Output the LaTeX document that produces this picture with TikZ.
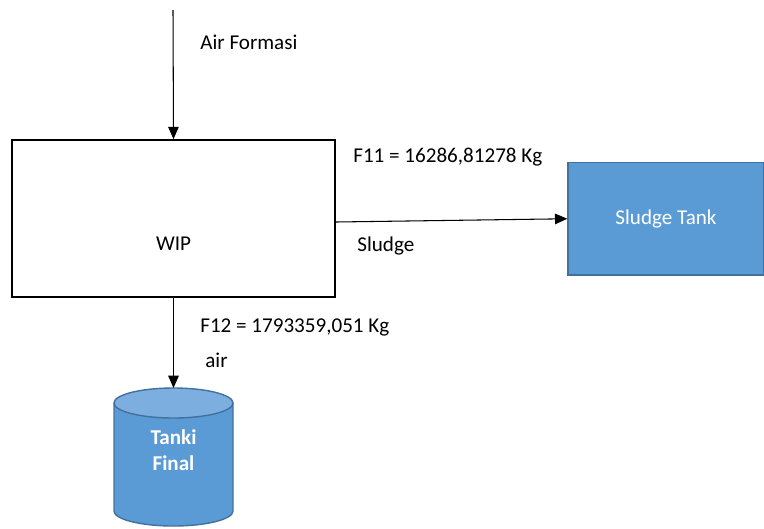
\documentclass[tikz,border=0pt]{standalone}
\usepackage{fontspec}
\setmainfont{Carlito}
\usetikzlibrary{arrows.meta}
\definecolor{tankblue}{HTML}{5B9BD5}
\definecolor{tankedge}{HTML}{41719C}
\definecolor{tanktop}{HTML}{7DAEE0}
\tikzset{
  flow/.style={-{Triangle[length=7pt,width=6pt]},line width=0.6pt},
  unitbox/.style={draw=black,line width=1pt,minimum width=6.46cm,minimum height=3.14cm,inner sep=0pt},
  storebox/.style={draw=tankedge,fill=tankblue,line width=0.8pt,minimum width=3.92cm,minimum height=2.25cm,text=white},
  flowtext/.style={anchor=west,inner sep=0pt}
}
\begin{document}
\begin{tikzpicture}[font=\fontsize{12}{14}\selectfont]
\useasboundingbox (0,0) rectangle (15.28,-10.56);
% units
\node[unitbox] (wip) at (3.47,-4.37) {};
\node (wiptext) at ([yshift=-0.51cm]wip.center) {WIP};
\node[storebox] (sludgetank) at (13.32,-4.375) {Sludge Tank};
% tanki final
\fill[tankblue] (2.28,-8.06) -- (2.28,-10.22) arc (180:360:1.19cm and 0.3cm) -- (4.66,-8.06) -- cycle;
\draw[tankedge,line width=0.8pt] (2.28,-8.06) -- (2.28,-10.22) arc (180:360:1.19cm and 0.3cm) -- (4.66,-8.06);
\draw[tankedge,line width=0.8pt,fill=tanktop] (3.47,-8.06) ellipse (1.19cm and 0.3cm);
\coordinate (tanktopc) at (3.47,-7.76);
\node[text=white,font=\fontsize{12}{14.8}\selectfont\bfseries,align=center] (tanki) at (3.47,-9.0) {Tanki\\Final};
% streams
\coordinate (feed) at (3.46,-0.2);
\draw[flow] (feed) -- (wip.north);
\draw[flow] ([yshift=-0.07cm]wip.east) -- (sludgetank.west);
\draw[flow] (wip.south) -- (tanktopc);
% labels
\node[flowtext] (airformasi) at (4.0,-0.84) {Air Formasi};
\node[flowtext] (f11) at (7.06,-3.14) {F11 = 16286,81278 Kg};
\node[flowtext] (sludge) at (7.14,-4.92) {Sludge};
\node[flowtext] (f12) at (4.0,-6.54) {F12 = 1793359,051 Kg};
\node[flowtext] (air) at (4.1,-7.2) {air};
\end{tikzpicture}
\end{document}
